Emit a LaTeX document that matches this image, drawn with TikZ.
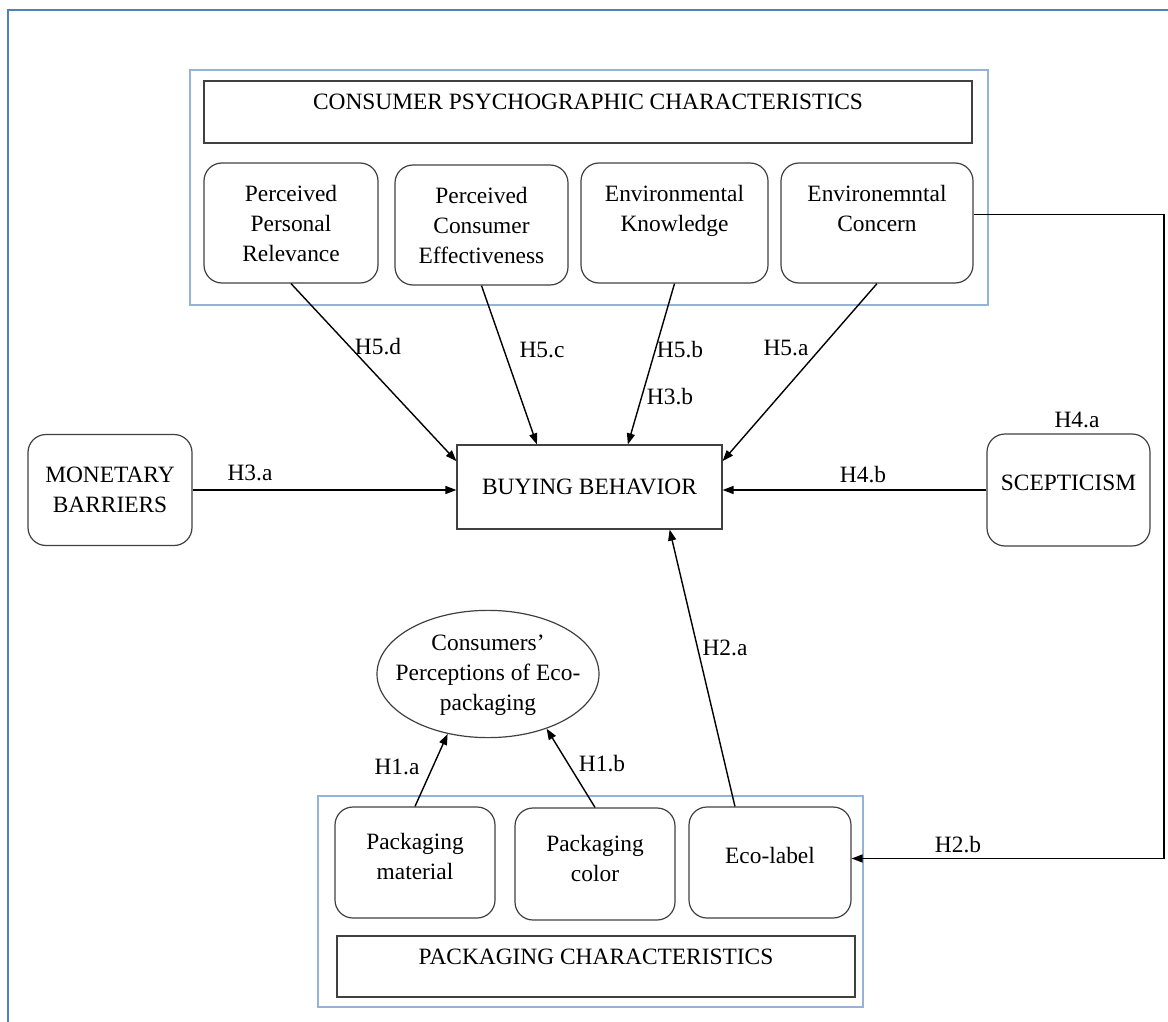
\documentclass[tikz,border=0pt]{standalone}
\usepackage{fontspec}
\setmainfont{Liberation Serif}
\usepackage{xcolor}
\usepackage{tikz}
\usetikzlibrary{shapes.geometric,arrows.meta}

\definecolor{framecol}{HTML}{4F81BD}
\definecolor{groupcol}{HTML}{95B3D7}
\definecolor{boxcol}{HTML}{404040}

\tikzset{
    box/.style={draw=boxcol, line width=0.6pt, rounded corners=9pt, align=center, inner sep=0pt},
    plainbox/.style={draw=boxcol, line width=0.6pt, align=center, inner sep=0pt},
    group/.style={draw=groupcol, line width=0.8pt},
    hyp/.style={-{Triangle[length=5.5pt,width=4pt]}, line width=0.7pt},
    hlabel/.style={inner sep=1pt}
}

\begin{document}
\begin{tikzpicture}[x=0.5pt, y=-0.5pt, every node/.style={font=\fontsize{11.7}{15}\selectfont}]

    \useasboundingbox (0,0) rectangle (1168,1022);

    % Outer frame (cut off at right and bottom)
    \draw[framecol, line width=0.6pt] (8,1022) -- (8,10) -- (1168,10);

    % Consumer psychographic group
    \draw[group] (190,70) rectangle (988,305);
    \node[plainbox, minimum width=384pt, minimum height=31pt, text depth=10pt] (psych) at (588,112) {CONSUMER PSYCHOGRAPHIC CHARACTERISTICS};

    \node[box, minimum width=87pt, minimum height=60pt] (relevance) at (291,223) {Perceived\\Personal\\Relevance};
    \node[box, minimum width=86.5pt, minimum height=60pt] (effect) at (481.5,225) {Perceived\\Consumer\\Effectiveness};
    \node[box, minimum width=93.5pt, minimum height=60pt] (knowledge) at (674.5,223) {Environmental\\Knowledge\\\mbox{}};
    \node[box, minimum width=96pt, minimum height=60pt] (concern) at (877,223) {Environemntal\\Concern\\\mbox{}};

    % Middle row
    \node[plainbox, minimum width=132.5pt, minimum height=42pt] (buying) at (589.5,487) {BUYING BEHAVIOR};
    \node[box, minimum width=82pt, minimum height=55.5pt] (monetary) at (110,490) {MONETARY\\BARRIERS};
    \node[box, minimum width=81.5pt, minimum height=56pt, text depth=7pt] (sceptic) at (1068.5,490) {SCEPTICISM};

    % Perceptions of eco-packaging
    \node[ellipse, draw=boxcol, line width=0.6pt, inner sep=0pt, minimum width=111pt, minimum height=63pt] (percept) at (488,674)
        {\makebox[0pt]{\begin{tabular}{@{}c@{}}Consumers’\\Perceptions of Eco-\\packaging\end{tabular}}};

    % Packaging group
    \draw[group] (318,796) rectangle (863,1007);
    \node[box, minimum width=80pt, minimum height=55.5pt] (material) at (415,862.5) {Packaging\\material\\[-9pt]\mbox{}};
    \node[box, minimum width=80pt, minimum height=56pt] (color) at (595,864) {Packaging\\color\\[-9pt]\mbox{}};
    \node[box, minimum width=81pt, minimum height=55.5pt, text depth=7.5pt] (ecolabel) at (770,862.5) {Eco-label};
    \node[plainbox, minimum width=259pt, minimum height=30.5pt, text depth=9.5pt] (packtitle) at (596,966.5) {PACKAGING CHARACTERISTICS};

    % Hypotheses
    \draw[hyp] (relevance.south) -- (buying.169);
    \draw[hyp] (effect.south) -- (buying.141);
    \draw[hyp] (knowledge.south) -- (buying.48);
    \draw[hyp] (concern.south) -- (buying.11);
    \draw[hyp] (monetary.east) -- (monetary.east -| buying.west);
    \draw[hyp] (sceptic.west) -- (sceptic.west -| buying.east);
    \draw[hyp] (material.north) -- (percept.-124);
    \draw[hyp] (color.north) -- (percept.-43);
    \draw[hyp] (ecolabel.122) -- (buying.-28);

    \coordinate (turn) at (1164,214);
    \draw[hyp] (concern.5) -- (concern.5 -| turn) |- ([yshift=2pt]ecolabel.east);

    % Labels
    \node[hlabel] (h5d) at (378,347) {H5.d};
    \node[hlabel] (h5c) at (542,350) {H5.c};
    \node[hlabel] (h5b) at (680,350) {H5.b};
    \node[hlabel] (h3b) at (670,397) {H3.b};
    \node[hlabel] (h5a) at (786,348) {H5.a};
    \node[hlabel] (h3a) at (250,473) {H3.a};
    \node[hlabel] (h4b) at (863,475) {H4.b};
    \node[hlabel] (h4a) at (1077,420) {H4.a};
    \node[hlabel] (h2a) at (725,648) {H2.a};
    \node[hlabel] (h2b) at (958,845) {H2.b};
    \node[hlabel] (h1a) at (397,767) {H1.a};
    \node[hlabel] (h1b) at (602,764) {H1.b};

\end{tikzpicture}
\end{document}
